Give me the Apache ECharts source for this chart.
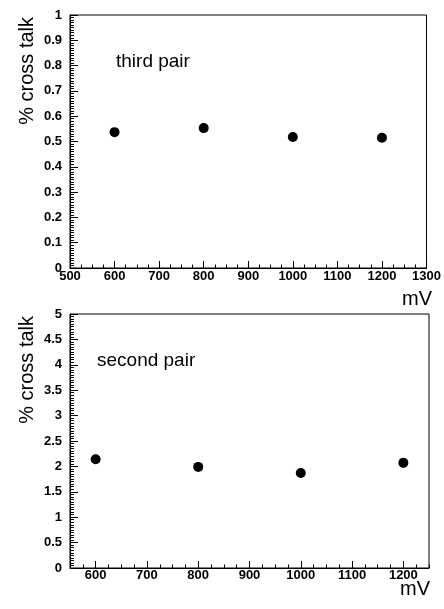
<!DOCTYPE html>
<html>
<head>
<meta charset="utf-8">
<script src="https://cdn.jsdelivr.net/npm/echarts@6/dist/echarts.min.js"></script>
<style>
  html, body { margin: 0; padding: 0; background: #fff; }
  #chart { width: 444px; height: 609px; }
</style>
</head>
<body>
<div id="chart"></div>
<script>
// Cross talk (%) versus supply voltage (mV) for two wire pairs
const voltages = [600, 800, 1000, 1200];
const thirdPair = [0.537, 0.553, 0.518, 0.515];
const secondPair = [2.14, 1.99, 1.87, 2.07];
const lowerMajorTicks = [600, 700, 800, 900, 1000, 1100, 1200];

const FONT = 'Liberation Sans, Arial, Helvetica, sans-serif';
const plain = v => String(Math.round(v * 1000) / 1000);
const tickLabel = { color: '#000', fontFamily: FONT, fontWeight: 'bold', fontSize: 13, formatter: plain };
const black = { color: '#000', width: 1 };

function pairs(xs, ys) { return xs.map((x, i) => [x, ys[i]]); }

const chart = echarts.init(document.getElementById('chart'), null, { renderer: 'canvas' });

const option = {
  animation: false,
  backgroundColor: '#fff',
  grid: [
    { left: 70, top: 15, width: 359, height: 253, show: true, borderColor: '#000', borderWidth: 1, backgroundColor: 'transparent' },
    { left: 70, top: 314, width: 359, height: 254, show: true, borderColor: '#000', borderWidth: 1, backgroundColor: 'transparent' }
  ],
  xAxis: [
    {
      gridIndex: 0, type: 'value', position: 'bottom', min: 500, max: 1300, interval: 100,
      axisLine: { show: true, lineStyle: black },
      axisTick: { show: true, inside: true, length: 7, lineStyle: black },
      minorTick: { show: true, splitNumber: 4, length: 3.5, lineStyle: black },
      splitLine: { show: false }, minorSplitLine: { show: false },
      axisLabel: Object.assign({ margin: 2 }, tickLabel)
    },
    {
      gridIndex: 1, type: 'value', position: 'bottom', min: 550, max: 1250,
      axisLine: { show: true, lineStyle: black },
      axisTick: { show: true, inside: true, length: 7, lineStyle: black, customValues: lowerMajorTicks },
      splitLine: { show: false },
      axisLabel: Object.assign({ margin: 1, customValues: lowerMajorTicks }, tickLabel)
    },
    {
      // fine ticks every 25 mV on the lower axis
      gridIndex: 1, type: 'value', position: 'bottom', min: 550, max: 1250, interval: 25,
      axisLine: { show: false },
      axisTick: { show: true, inside: true, length: 3.5, lineStyle: black },
      splitLine: { show: false },
      axisLabel: { show: false }
    }
  ],
  yAxis: [
    {
      gridIndex: 0, type: 'value', min: 0, max: 1, interval: 0.1,
      axisLine: { show: true, lineStyle: black },
      axisTick: { show: true, inside: true, length: 8, lineStyle: black },
      minorTick: { show: true, splitNumber: 10, length: 4, lineStyle: black },
      splitLine: { show: false }, minorSplitLine: { show: false },
      axisLabel: Object.assign({ margin: 8 }, tickLabel)
    },
    {
      gridIndex: 1, type: 'value', min: 0, max: 5, interval: 0.5,
      axisLine: { show: true, lineStyle: black },
      axisTick: { show: true, inside: true, length: 8, lineStyle: black },
      minorTick: { show: true, splitNumber: 10, length: 4, lineStyle: black },
      splitLine: { show: false }, minorSplitLine: { show: false },
      axisLabel: Object.assign({ margin: 8 }, tickLabel)
    }
  ],
  series: [
    {
      type: 'scatter', xAxisIndex: 0, yAxisIndex: 0,
      data: pairs(voltages, thirdPair),
      symbol: 'circle', symbolSize: 10,
      itemStyle: { color: '#000', opacity: 1 }
    },
    {
      type: 'scatter', xAxisIndex: 1, yAxisIndex: 1,
      data: pairs(voltages, secondPair),
      symbol: 'circle', symbolSize: 10,
      itemStyle: { color: '#000', opacity: 1 }
    }
  ],
  graphic: [
    { type: 'text', x: 27, y: 17, rotation: Math.PI / 2,
      style: { text: '% cross talk', fill: '#000', font: '20px ' + FONT, align: 'right', verticalAlign: 'middle' } },
    { type: 'text', x: 27, y: 316, rotation: Math.PI / 2,
      style: { text: '% cross talk', fill: '#000', font: '20px ' + FONT, align: 'right', verticalAlign: 'middle' } },
    { type: 'text', x: 432, y: 299,
      style: { text: 'mV', fill: '#000', font: '20px ' + FONT, align: 'right', verticalAlign: 'middle' } },
    { type: 'text', x: 430, y: 589,
      style: { text: 'mV', fill: '#000', font: '20px ' + FONT, align: 'right', verticalAlign: 'middle' } },
    { type: 'text', x: 116, y: 62,
      style: { text: 'third pair', fill: '#000', font: '19px ' + FONT, align: 'left', verticalAlign: 'middle' } },
    { type: 'text', x: 97, y: 361,
      style: { text: 'second pair', fill: '#000', font: '19px ' + FONT, align: 'left', verticalAlign: 'middle' } }
  ]
};

chart.setOption(option);
</script>
</body>
</html>
